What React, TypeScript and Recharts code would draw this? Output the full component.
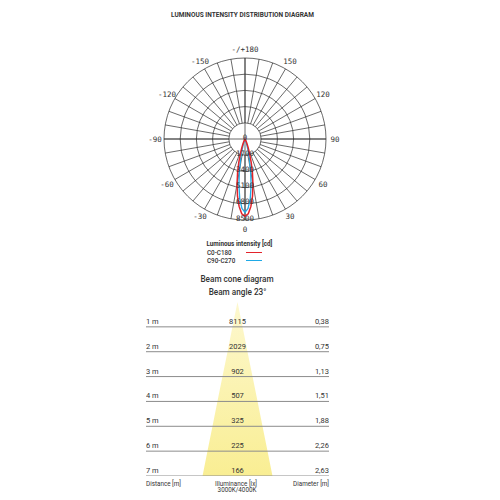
import React from 'react';
import {
  RadarChart,
  Radar,
  PolarGrid,
  PolarAngleAxis,
  PolarRadiusAxis,
  ComposedChart,
  Area,
  XAxis,
  YAxis,
  ReferenceLine,
} from 'recharts';

// polar grid: spokes every 10 deg, labels every 30 deg
const GRID_ANGLES = [
  0, 10, 20, 30, 40, 50, 60, 70, 80, 90, 100, 110, 120, 130, 140, 150, 160, 170,
  180, 190, 200, 210, 220, 230, 240, 250, 260, 270, 280, 290, 300, 310, 320, 330, 340, 350,
];
const RADIUS_TICKS = [0, 1700, 3400, 5100, 6800, 8500];

// intensity read at offsets from nadir (same on both sides of each plane)
const PROFILE_OFFSETS = [0, 2.5, 5, 7.5, 10, 12.5, 15, 17.5, 20, 22.5, 25, 27.5, 30];
const C0_C180 = [8100, 7850, 7100, 6050, 4800, 3600, 2500, 1600, 1000, 550, 300, 150, 60];
const C90_C270 = [7700, 7300, 6300, 4900, 3400, 2150, 1250, 620, 290, 120, 40, 0, 0];

// beam cone table
const DISTANCES = [1, 2, 3, 4, 5, 6, 7];
const ILLUMINANCE = [8115, 2029, 902, 507, 325, 225, 166];
const DIAMETERS = [0.38, 0.75, 1.13, 1.51, 1.88, 2.26, 2.63];

const START = -90; // 0 deg points down
const OUTER_R = 81;
const INNER_R = (OUTER_R * RADIUS_TICKS[1]) / RADIUS_TICKS[RADIUS_TICKS.length - 1];
const STEP = 2.5;

const gridData = GRID_ANGLES.map((angle) => ({ angle }));

const curveData = Array.from({ length: 360 / STEP }, (_, i) => {
  const angle = i * STEP;
  const off = Math.min(angle, 360 - angle);
  const idx = PROFILE_OFFSETS.indexOf(off);
  return {
    angle,
    red: idx >= 0 ? C0_C180[idx] : 0,
    blue: idx >= 0 ? C90_C270[idx] : 0,
  };
});

const coneData = [
  { d: 0, cone: [0, 0] },
  ...DISTANCES.map((d, i) => ({ d, cone: [-DIAMETERS[i] / 2, DIAMETERS[i] / 2] })),
];

const MONO = '"DejaVu Sans Mono", monospace';
const SANS = 'Roboto, "Noto Sans", sans-serif';

const angleLabel = (a: number) => {
  if (a === 180) return '-/+180';
  return a > 180 ? String(a - 360) : String(a);
};

const AngleTick = ({ x, y, payload }: any) => {
  const a = Number(payload.value);
  if (a % 30 !== 0) return <g />;
  return (
    <text x={x} y={y} textAnchor="middle" dominantBaseline="central" fontSize={7.5} fontFamily={MONO} fill="#333">
      {angleLabel(a)}
    </text>
  );
};

const RadiusTick = ({ x, y, payload }: any) => (
  <text x={x} y={y - 2} textAnchor="middle" dominantBaseline="central" fontSize={7.5} fontFamily={MONO} fill="#333">
    {payload.value}
  </text>
);

const rowLabel = (i: number) => (props: any) => {
  const { x, y, width } = props.viewBox;
  return (
    <g fontFamily={SANS} fontSize={7.5} fill="#333">
      <text x={x} y={y - 3}>{`${DISTANCES[i]} m`}</text>
      <text x={x + width / 2} y={y - 3} textAnchor="middle">{ILLUMINANCE[i]}</text>
      <text x={x + width} y={y - 3} textAnchor="end">
        {DIAMETERS[i].toFixed(2).replace('.', ',')}
      </text>
    </g>
  );
};

const Txt = ({ x, y, size, weight = 400, align = 'left', children }: any) => {
  const tx = align === 'center' ? '-50%' : align === 'right' ? '-100%' : '0';
  return (
    <div
      style={{
        position: 'absolute',
        left: x,
        top: y,
        transform: `translate(${tx}, -50%)`,
        fontSize: size,
        fontWeight: weight,
        lineHeight: 1,
        whiteSpace: 'nowrap',
        color: '#333',
        fontFamily: SANS,
      }}
    >
      {children}
    </div>
  );
};

export default function App() {
  const chartBox: React.CSSProperties = { position: 'absolute', left: 125, top: 39 };
  return (
    <div style={{ position: 'absolute', left: 0, top: 0, width: 500, height: 500, background: '#fff' }}>
      <Txt x={242.5} y={15} size={6.5} weight={700} align="center">
        LUMINOUS INTENSITY DISTRIBUTION DIAGRAM
      </Txt>

      {/* spokes + angle labels */}
      <div style={chartBox}>
        <RadarChart
          width={240}
          height={200}
          data={gridData}
          cx={120}
          cy={100}
          innerRadius={INNER_R}
          outerRadius={OUTER_R}
          startAngle={START}
          endAngle={START + 360}
          margin={{ top: 0, right: 0, bottom: 0, left: 0 }}
        >
          <PolarGrid gridType="circle" polarRadius={[]} stroke="#2a2a2a" strokeWidth={0.7} />
          <PolarAngleAxis
            dataKey="angle"
            type="number"
            domain={[0, 360]}
            ticks={GRID_ANGLES}
            axisLine={false}
            tickLine={false}
            tickSize={9}
            tick={<AngleTick />}
          />
        </RadarChart>
      </div>

      {/* rings, cross, intensity curves */}
      <div style={chartBox}>
        <RadarChart
          width={240}
          height={200}
          data={curveData}
          cx={120}
          cy={100}
          innerRadius={0}
          outerRadius={OUTER_R}
          startAngle={START}
          endAngle={START + 360}
          margin={{ top: 0, right: 0, bottom: 0, left: 0 }}
        >
          <PolarGrid
            gridType="circle"
            polarAngles={[0, 90, 180, 270].map((a) => START + a)}
            stroke="#2a2a2a"
            strokeWidth={0.7}
          />
          <PolarAngleAxis dataKey="angle" type="number" domain={[0, 360]} axisLine={false} tickLine={false} tick={false} />
          <PolarRadiusAxis
            angle={START}
            type="number"
            domain={[0, RADIUS_TICKS[RADIUS_TICKS.length - 1]]}
            ticks={RADIUS_TICKS}
            axisLine={false}
            tickLine={false}
            tick={<RadiusTick />}
          />
          <Radar dataKey="blue" stroke="#1fa9e6" strokeWidth={1.3} fill="none" fillOpacity={0} dot={false} isAnimationActive={false} />
          <Radar dataKey="red" stroke="#e3232b" strokeWidth={1.5} fill="none" fillOpacity={0} dot={false} isAnimationActive={false} />
        </RadarChart>
      </div>

      {/* legend */}
      <Txt x={206.5} y={243.5} size={6.3} weight={700}>Luminous intensity [cd]</Txt>
      <Txt x={207} y={252.7} size={6.3} weight={500}>C0-C180</Txt>
      <Txt x={207} y={260.7} size={6.3} weight={500}>C90-C270</Txt>
      <div style={{ position: 'absolute', left: 246, top: 252, width: 16, height: 1.4, background: '#e3232b' }} />
      <div style={{ position: 'absolute', left: 246, top: 260, width: 16, height: 1.4, background: '#1fa9e6' }} />

      <Txt x={237} y={278.5} size={8.2} weight={500} align="center">Beam cone diagram</Txt>
      <Txt x={237.5} y={291.7} size={8.2} weight={500} align="center">Beam angle 23°</Txt>

      {/* beam cone */}
      <div style={{ position: 'absolute', left: 146, top: 302 }}>
        <ComposedChart width={183} height={174} data={coneData} layout="vertical" margin={{ top: 0, right: 0, bottom: 0, left: 0 }}>
          <defs>
            <linearGradient id="coneFill" x1="0" y1="0" x2="0" y2="1">
              <stop offset="0%" stopColor="#fdf8cf" />
              <stop offset="100%" stopColor="#f9ee93" />
            </linearGradient>
          </defs>
          <XAxis type="number" domain={[-3.44, 3.44]} hide allowDataOverflow />
          <YAxis type="number" dataKey="d" domain={[0, 7]} hide />
          <Area dataKey="cone" type="linear" stroke="none" fill="url(#coneFill)" fillOpacity={1} isAnimationActive={false} />
          {DISTANCES.map((d, i) => (
            <ReferenceLine key={d} y={d} stroke="#8c8c8c" strokeWidth={1} label={rowLabel(i)} />
          ))}
        </ComposedChart>
      </div>

      <Txt x={146} y={483.5} size={6.3}>Distance [m]</Txt>
      <Txt x={236} y={483.5} size={6.3} align="center">Illuminance [lx]</Txt>
      <Txt x={237} y={490} size={6.3} align="center">3000K/4000K</Txt>
      <Txt x={329} y={483.5} size={6.3} align="right">Diameter [m]</Txt>
    </div>
  );
}
